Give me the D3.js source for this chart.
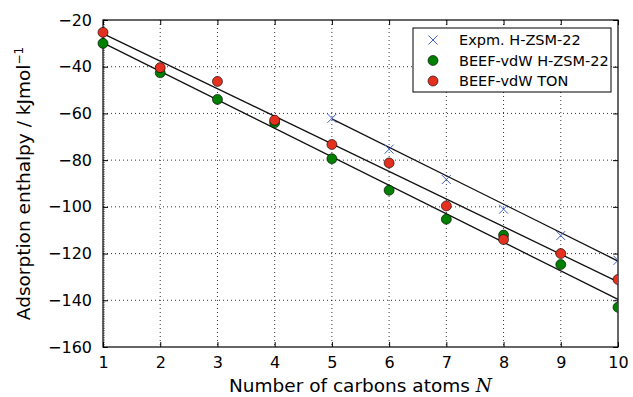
<!DOCTYPE html>
<html>
<head>
<meta charset="utf-8">
<script src="https://cdn.jsdelivr.net/npm/d3@7"></script>
<style>
  body { margin: 0; background: #fff; }
  text { font-family: "DejaVu Sans", sans-serif; fill: #000; }
</style>
</head>
<body>
<div id="chart"></div>
<script>
// carbon number N
const nAll = [1, 2, 3, 4, 5, 6, 7, 8, 9, 10];
const nExp = [5, 6, 7, 8, 9, 10];

// adsorption enthalpies, kJ/mol
const expHZSM22 = [-62.1, -75.3, -88.3, -101, -112.3, -122.9];
const beefHZSM22 = [-30, -42.6, -54, -64, -79.4, -92.9, -105.3, -112.1, -124.7, -143];
const beefTON = [-25.3, -40.4, -46.3, -62.9, -73.3, -81.2, -99.6, -114, -120, -131.1];

// fitted lines (end points)
const fitExpN = [5, 10], fitExp = [-62.3, -123.2];
const fitBeefN = [1, 10], fitBeef = [-29.8, -139.6];
const fitTonN = [1, 10], fitTon = [-25.8, -132.1];

const xTicks = [1, 2, 3, 4, 5, 6, 7, 8, 9, 10];
const yTicks = [-160, -140, -120, -100, -80, -60, -40, -20];

const legendLabels = ["Expm. H-ZSM-22", "BEEF-vdW H-ZSM-22", "BEEF-vdW TON"];

const W = 633, H = 397;
const margin = { top: 20, right: 15, bottom: 50, left: 103 };
const iw = W - margin.left - margin.right;
const ih = H - margin.top - margin.bottom;

const svg = d3.select("#chart").append("svg")
    .attr("width", W).attr("height", H);

const g = svg.append("g")
    .attr("transform", `translate(${margin.left},${margin.top})`);

const x = d3.scaleLinear().domain([1, 10]).range([0, iw]);
const y = d3.scaleLinear().domain([-160, -20]).range([ih, 0]);

const fmt = d => d < 0 ? "\u2212" + Math.abs(d) : String(d);

// grid
g.append("g").selectAll("line").data(xTicks.slice(1, -1)).join("line")
    .attr("x1", d => x(d)).attr("x2", d => x(d))
    .attr("y1", 0).attr("y2", ih)
    .attr("stroke", "#000").attr("stroke-width", 0.8)
    .attr("stroke-dasharray", "1,3");
g.append("g").selectAll("line").data(yTicks.slice(1, -1)).join("line")
    .attr("y1", d => y(d)).attr("y2", d => y(d))
    .attr("x1", 0).attr("x2", iw)
    .attr("stroke", "#000").attr("stroke-width", 0.8)
    .attr("stroke-dasharray", "1,3");

// axes, ticks pointing inward
const xAxis = g.append("g").attr("transform", `translate(0,${ih})`)
    .call(d3.axisBottom(x).tickValues(xTicks).tickSize(-5).tickPadding(10).tickFormat(d3.format("d")));
const xTop = g.append("g")
    .call(d3.axisTop(x).tickValues(xTicks).tickSize(-5).tickFormat(""));
const yAxis = g.append("g")
    .call(d3.axisLeft(y).tickValues(yTicks).tickSize(-5).tickPadding(11).tickFormat(fmt));
const yRight = g.append("g").attr("transform", `translate(${iw},0)`)
    .call(d3.axisRight(y).tickValues(yTicks).tickSize(-5).tickFormat(""));

// minor ticks on the left spine
g.append("g").selectAll("line").data(d3.range(-160, -19, 1)).join("line")
    .attr("x1", 0).attr("x2", 2)
    .attr("y1", d => y(d)).attr("y2", d => y(d))
    .attr("stroke", "#000").attr("stroke-width", 0.5);

[xAxis, xTop, yAxis, yRight].forEach(a => {
    a.select(".domain").remove();
    a.selectAll("line").attr("stroke", "#000");
    a.selectAll("text").style("font-size", "16px").style("font-family", "DejaVu Sans");
});

// frame
g.append("rect").attr("width", iw).attr("height", ih)
    .attr("fill", "none").attr("stroke", "#000").attr("stroke-width", 1.2);

// fit lines
const line = d3.line().x(d => x(d[0])).y(d => y(d[1]));
[[fitExpN, fitExp], [fitBeefN, fitBeef], [fitTonN, fitTon]].forEach(([ns, vs]) => {
    g.append("path").datum(ns.map((n, i) => [n, vs[i]]))
        .attr("d", line).attr("fill", "none")
        .attr("stroke", "#111").attr("stroke-width", 1.3);
});

const clip = svg.append("clipPath").attr("id", "clip");
clip.append("rect").attr("x", -6).attr("y", -6).attr("width", iw + 6).attr("height", ih + 12);

const marks = g.append("g").attr("clip-path", "url(#clip)");

const green = "#007f00", red = "#e3301f", blue = "#3f5fc8";

// markers
marks.selectAll(".g").data(nAll).join("circle")
    .attr("cx", d => x(d)).attr("cy", (d, i) => y(beefHZSM22[i])).attr("r", 5)
    .attr("fill", green).attr("stroke", "#000").attr("stroke-width", 0.6);
marks.selectAll(".r").data(nAll).join("circle")
    .attr("cx", d => x(d)).attr("cy", (d, i) => y(beefTON[i])).attr("r", 5)
    .attr("fill", red).attr("stroke", "#000").attr("stroke-width", 0.6);

const cross = (sel, cx, cy, s) => sel.append("path")
    .attr("d", `M${cx - s},${cy - s}L${cx + s},${cy + s}M${cx - s},${cy + s}L${cx + s},${cy - s}`)
    .attr("stroke", blue).attr("stroke-width", 1).attr("fill", "none");
nExp.forEach((n, i) => cross(marks, x(n), y(expHZSM22[i]), 4.5));

// legend
const lg = svg.append("g").attr("transform", "translate(413,28)");
lg.append("rect").attr("width", 198).attr("height", 64)
    .attr("fill", "#fff").attr("stroke", "#000").attr("stroke-width", 1);
legendLabels.forEach((t, i) => {
    const cy = 12 + i * 20.5;
    if (i === 0) cross(lg, 20, cy, 4.5);
    else lg.append("circle").attr("cx", 20).attr("cy", cy).attr("r", 5)
        .attr("fill", i === 1 ? green : red).attr("stroke", "#000").attr("stroke-width", 0.6);
    lg.append("text").attr("x", 46).attr("y", cy).attr("dy", "0.36em")
        .style("font-size", "14.5px").text(t);
});

// axis labels
svg.append("text")
    .attr("x", margin.left + iw / 2).attr("y", 392)
    .attr("text-anchor", "middle").style("font-size", "18.5px")
    .text("Number of carbons atoms ")
    .append("tspan").style("font-family", "DejaVu Serif").style("font-style", "italic").text("N");

const yl = svg.append("text")
    .attr("transform", `translate(30,${margin.top + ih / 2}) rotate(-90)`)
    .attr("text-anchor", "middle").style("font-size", "18.5px")
    .text("Adsorption enthalpy / kJmol");
yl.append("tspan").attr("dy", "-0.6em").style("font-size", "12px").text("\u22121");
</script>
</body>
</html>
